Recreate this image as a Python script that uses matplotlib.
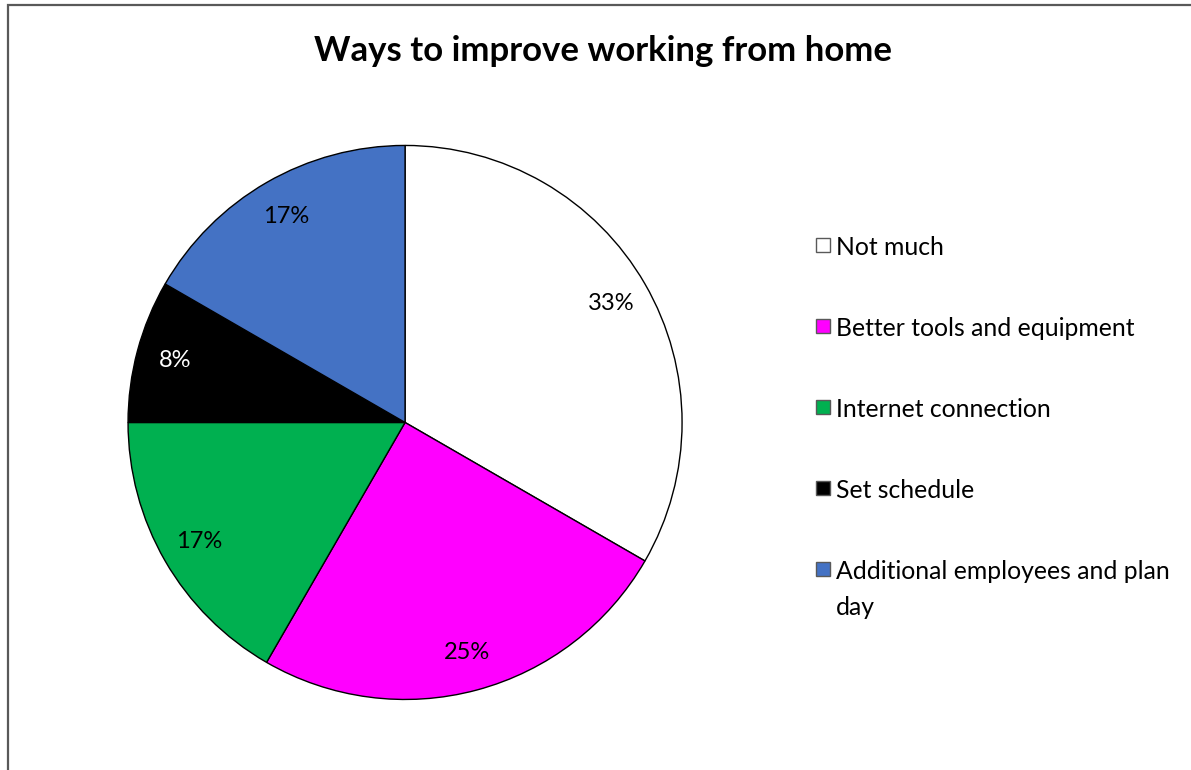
import matplotlib
matplotlib.use("Agg")
import matplotlib.pyplot as plt
from matplotlib.patches import Rectangle

# survey answers (counts)
categories = ["Not much", "Better tools and equipment", "Internet connection",
              "Set schedule", "Additional employees and plan\nday"]
counts = [4, 3, 2, 1, 2]
colors = ["#FFFFFF", "#FF00FF", "#00B050", "#000000", "#4472C4"]
label_colors = ["black", "black", "black", "white", "black"]

plt.rcParams['font.family'] = ['Lato', 'DejaVu Sans']

fig = plt.figure(figsize=(11.91, 7.70), dpi=100)
W, H = 1191, 770

# chart area border (runs off the right and bottom edges)
fig.patches.append(Rectangle((7.5 / W, -0.1), 1.2, 1 - 5.5 / H + 0.1,
                             transform=fig.transFigure, fill=False,
                             edgecolor="#595959", linewidth=1.6))

fig.text(603 / W, 1 - 51 / H, "Ways to improve working from home",
         ha="center", va="center", fontsize=25, fontweight="bold")

ax = fig.add_axes([0.1075, 0.0916, 0.4652, 0.7195])
wedges, texts, autotexts = ax.pie(
    counts, colors=colors, startangle=90, counterclock=False,
    autopct="%1.0f%%", pctdistance=0.86,
    wedgeprops=dict(edgecolor="black", linewidth=1.0),
    textprops=dict(fontsize=17))
for t, c in zip(autotexts, label_colors):
    t.set_color(c)
ax.set_xlim(-1, 1)
ax.set_ylim(-1, 1)
ax.set_aspect("equal")

# legend on the right, handle aligned with the first text line
y0, step, sq = 245, 81, 14
for i, (name, col) in enumerate(zip(categories, colors)):
    yc = y0 + i * step
    fig.patches.append(Rectangle((816 / W, 1 - (yc + sq / 2) / H), sq / W, sq / H,
                                 transform=fig.transFigure, facecolor=col,
                                 edgecolor="#595959", linewidth=1.0))
    fig.text(836 / W, 1 - (yc - 9) / H, name, ha="left", va="top",
             fontsize=17.8, linespacing=1.7)

fig.savefig("out.png", dpi=100)
